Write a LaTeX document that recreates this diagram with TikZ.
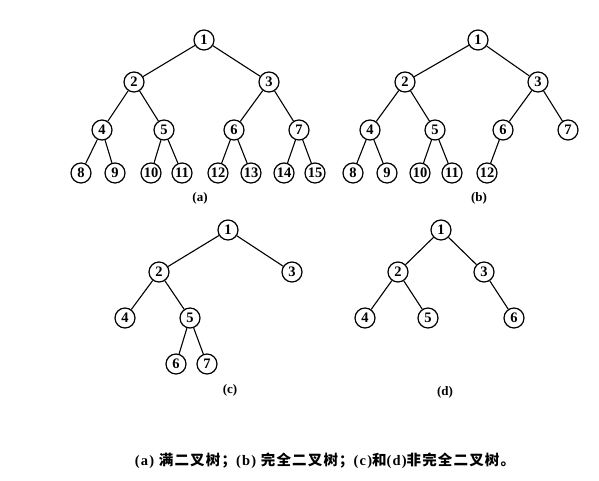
\documentclass[tikz,border=0pt]{standalone}
\usepackage{fontspec}
\setmainfont{Liberation Serif}
\newfontfamily\cjk[LetterSpace=8]{Noto Sans CJK SC}
\newfontfamily\capserif[LetterSpace=8]{Liberation Serif}
\begin{document}
\begin{tikzpicture}[x=1pt,y=-1pt,
  nd/.style={circle,draw,line width=1.2pt,minimum size=20pt,inner sep=0pt,font=\fontsize{14.5}{14.5}\selectfont\bfseries},
  edge/.style={line width=1.1pt},
  lbl/.style={font=\fontsize{13}{13}\selectfont\bfseries}]
\useasboundingbox (0,0) rectangle (599,480);
% (a)
\node[nd] (a1) at (204,40) {1};
\node[nd] (a2) at (134,82) {2};
\node[nd] (a3) at (269,82) {3};
\node[nd] (a4) at (102,130) {4};
\node[nd] (a5) at (164,130) {5};
\node[nd] (a6) at (234,130) {6};
\node[nd] (a7) at (299,130) {7};
\node[nd] (a8) at (81,173) {8};
\node[nd] (a9) at (115,173) {9};
\node[nd] (a10) at (151,173) {10};
\node[nd] (a11) at (182,173) {11};
\node[nd] (a12) at (218,173) {12};
\node[nd] (a13) at (251,173) {13};
\node[nd] (a14) at (284,173) {14};
\node[nd] (a15) at (315,173) {15};
\node[lbl] (la) at (200,198) {(a)};
\foreach \p/\c in {a1/a2,a1/a3,a2/a4,a2/a5,a3/a6,a3/a7,a4/a8,a4/a9,a5/a10,a5/a11,a6/a12,a6/a13,a7/a14,a7/a15}
  \draw[edge] (\p) -- (\c);
% (b)
\node[nd] (b1) at (478,40) {1};
\node[nd] (b2) at (405,82) {2};
\node[nd] (b3) at (538,82) {3};
\node[nd] (b4) at (370,130) {4};
\node[nd] (b5) at (435,130) {5};
\node[nd] (b6) at (503,130) {6};
\node[nd] (b7) at (568,130) {7};
\node[nd] (b8) at (353,173) {8};
\node[nd] (b9) at (387,173) {9};
\node[nd] (b10) at (420,173) {10};
\node[nd] (b11) at (452,173) {11};
\node[nd] (b12) at (487,173) {12};
\node[lbl] (lb) at (479,198) {(b)};
\foreach \p/\c in {b1/b2,b1/b3,b2/b4,b2/b5,b3/b6,b3/b7,b4/b8,b4/b9,b5/b10,b5/b11,b6/b12}
  \draw[edge] (\p) -- (\c);
% (c)
\node[nd] (c1) at (228,230) {1};
\node[nd] (c2) at (159,272) {2};
\node[nd] (c3) at (292,272) {3};
\node[nd] (c4) at (125,318) {4};
\node[nd] (c5) at (190,318) {5};
\node[nd] (c6) at (176,364) {6};
\node[nd] (c7) at (207,364) {7};
\node[lbl] (lc) at (230,390) {(c)};
\foreach \p/\c in {c1/c2,c1/c3,c2/c4,c2/c5,c5/c6,c5/c7}
  \draw[edge] (\p) -- (\c);
% (d)
\node[nd] (d1) at (441,230) {1};
\node[nd] (d2) at (398,272) {2};
\node[nd] (d3) at (484,272) {3};
\node[nd] (d4) at (365,318) {4};
\node[nd] (d5) at (428,318) {5};
\node[nd] (d6) at (514,318) {6};
\node[lbl] (ld) at (445,392) {(d)};
\foreach \p/\c in {d1/d2,d1/d3,d2/d4,d2/d5,d3/d6}
  \draw[edge] (\p) -- (\c);
% caption
\node[font=\fontsize{14.5}{14.5}\capserif\bfseries] (cap) at (325,461) {(a) {\cjk 满二叉树；}(b) {\cjk 完全二叉树；}(c){\cjk 和}(d){\cjk 非完全二叉树。}};
\end{tikzpicture}
\end{document}
